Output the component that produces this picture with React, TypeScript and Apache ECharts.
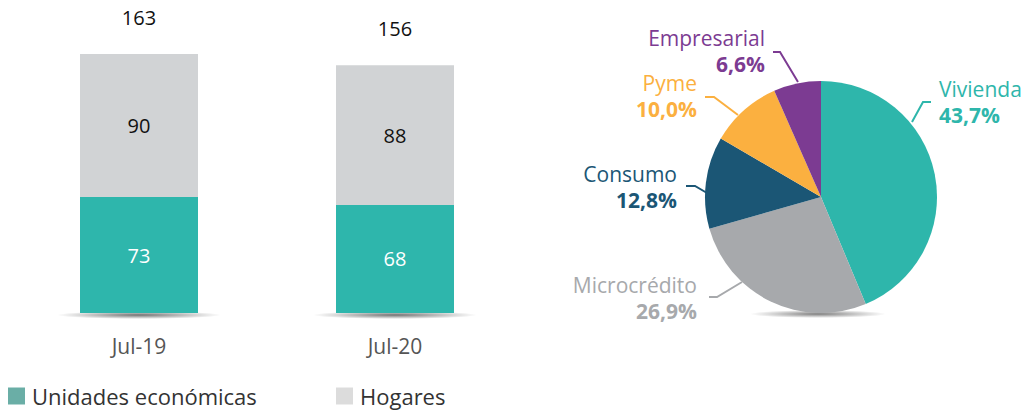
import React, { useEffect, useRef } from "react";
import * as echarts from "echarts";

const categories = ["Jul-19", "Jul-20"];
const unidades = [73, 68];
const hogares = [90, 88];
const totals = [163, 156];

const pieNames = ["Vivienda", "Microcrédito", "Consumo", "Pyme", "Empresarial"];
const pieValues = [43.7, 26.9, 12.8, 10.0, 6.6];
const pieColors = ["#2eb6ab", "#a7a9ac", "#1b5675", "#fbb040", "#7c3b92"];

const FONT = "'Open Sans', 'Noto Sans', sans-serif";

// label placement (layout only)
const pieLabelLayout = [
  { x: 939, y: 76, align: "left", pts: [[912, 122], [923, 102], [931, 102]] },
  { x: 697, y: 272, align: "right", pts: [[742, 282], [717, 297], [709, 297]] },
  { x: 677, y: 161, align: "right", pts: [[707, 193], [695, 186], [686, 186]] },
  { x: 697, y: 70, align: "right", pts: [[738, 115], [714, 97], [705, 97]] },
  { x: 765, y: 25, align: "right", pts: [[798, 82], [780, 52], [773, 52]] },
];

const fmtPct = (v: number) => v.toFixed(1).replace(".", ",") + "%";

const shadow = (a: number) =>
  new echarts.graphic.RadialGradient(0.5, 0.5, 0.5, [
    { offset: 0, color: `rgba(0,0,0,${a})` },
    { offset: 1, color: "rgba(0,0,0,0)" },
  ]);

export default function App() {
  const ref = useRef<HTMLDivElement>(null);
  useEffect(() => {
    if (!ref.current) return;
    const chart = echarts.init(ref.current, undefined, { renderer: "svg" });
    const legendText = { fontSize: 22, color: "#333", fontFamily: FONT, padding: [0, 0, 0, 2] };
    const option: any = {
      animation: false,
      textStyle: { fontFamily: FONT },
      graphic: [
        { type: "ellipse", shape: { cx: 139, cy: 315, rx: 82, ry: 4 }, style: { fill: shadow(0.55) }, z: -1 },
        { type: "ellipse", shape: { cx: 395, cy: 315, rx: 82, ry: 4 }, style: { fill: shadow(0.55) }, z: -1 },
        { type: "ellipse", shape: { cx: 818, cy: 314, rx: 68, ry: 4 }, style: { fill: shadow(0.5) }, z: -1 },
      ],
      legend: [
        {
          left: 8,
          top: 385,
          padding: 0,
          icon: "rect",
          itemWidth: 17,
          itemHeight: 17,
          textStyle: legendText,
          data: [{ name: "Unidades económicas", itemStyle: { color: "#6aaea6" } }],
        },
        {
          left: 336,
          top: 385,
          padding: 0,
          icon: "rect",
          itemWidth: 17,
          itemHeight: 17,
          textStyle: legendText,
          data: [{ name: "Hogares", itemStyle: { color: "#dcdcdc" } }],
        },
      ],
      grid: { left: 11, right: 508, top: 27, bottom: 98 },
      xAxis: {
        type: "category",
        data: categories,
        axisLine: { show: false },
        axisTick: { show: false },
        axisLabel: { fontSize: 21, color: "#555", margin: 22, fontFamily: FONT },
      },
      yAxis: { type: "value", min: 0, max: 180, show: false, splitLine: { show: false } },
      series: [
        {
          name: "Unidades económicas",
          type: "bar",
          stack: "a",
          data: unidades,
          barWidth: 118,
          itemStyle: { color: "#2eb6ac" },
          label: { show: true, position: "inside", color: "#fff", fontSize: 20, fontFamily: FONT },
        },
        {
          name: "Hogares",
          type: "bar",
          stack: "a",
          data: hogares,
          barWidth: 118,
          itemStyle: { color: "#d1d3d5" },
          label: { show: true, position: "inside", color: "#111", fontSize: 20, fontFamily: FONT },
        },
        {
          name: "Total",
          type: "bar",
          stack: "a",
          data: totals.map(() => 0),
          barWidth: 118,
          itemStyle: { color: "transparent" },
          label: {
            show: true,
            position: "top",
            distance: 27,
            color: "#111",
            fontSize: 20,
            fontFamily: FONT,
            formatter: (p: any) => String(totals[p.dataIndex]),
          },
        },
        {
          name: "Cartera",
          type: "pie",
          center: [821, 197],
          radius: 116,
          startAngle: 90,
          clockwise: true,
          data: pieNames.map((n, i) => ({
            name: n,
            value: pieValues[i],
            itemStyle: { color: pieColors[i] },
            label: { color: pieColors[i] },
            labelLine: { lineStyle: { color: pieColors[i] } },
          })),
          label: {
            show: true,
            position: "outside",
            overflow: "none",
            edgeDistance: 0,
            fontFamily: FONT,
            formatter: (p: any) => `{n|${p.name}}\n{p|${fmtPct(p.value)}}`,
            rich: {
              n: { fontSize: 21, fontFamily: FONT, lineHeight: 26 },
              p: { fontSize: 21, fontWeight: "bold", fontFamily: FONT, lineHeight: 26 },
            },
          },
          labelLine: { show: true, lineStyle: { width: 2 } },
          labelLayout: (params: any) => {
            const l = pieLabelLayout[params.dataIndex];
            return {
              x: l.x,
              y: l.y,
              align: l.align,
              verticalAlign: "top",
              width: 130,
              labelLinePoints: l.pts,
            };
          },
        },
      ],
    };
    chart.setOption(option);
    return () => chart.dispose();
  }, []);
  return (
    <div
      ref={ref}
      style={{ position: "absolute", left: 0, top: 0, width: 1031, height: 411 }}
    />
  );
}
